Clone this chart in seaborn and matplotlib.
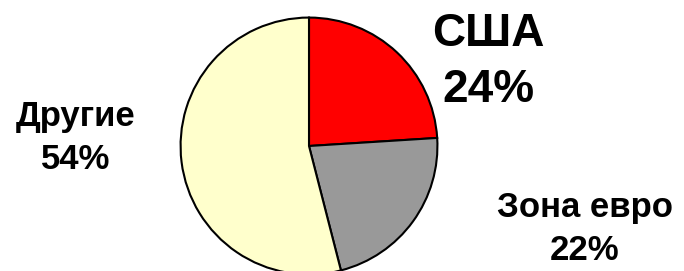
import matplotlib
matplotlib.use("Agg")
import matplotlib.pyplot as plt
import seaborn as sns

# shares of world economy
regions = ["США", "Зона евро", "Другие"]
shares = [24, 22, 54]
slice_colors = ["#FF0000", "#999999", "#FFFFCC"]

sns.set_theme(style="white")
plt.rcParams['font.family'] = ['Liberation Sans', 'DejaVu Sans']

fig = plt.figure(figsize=(6.84, 2.71), dpi=100, facecolor='white')
# pie centred at about (309, 146) px, radius ~131 px
ax = fig.add_axes([178 / 684, (271 - 277) / 271, 262 / 684, 262 / 271])
ax.pie(shares, colors=slice_colors, startangle=90, counterclock=False,
       radius=1.0, wedgeprops=dict(edgecolor='black', linewidth=1.5))
ax.set_xlim(-1.02, 1.02)
ax.set_ylim(-1.02, 1.02)
ax.set_aspect('equal')
ax.axis('off')

labels = [f"{r}\n{s}%" for r, s in zip(regions, shares)]
fig.text(488 / 684, 1 - 62 / 271, labels[0], ha='center', va='center',
         fontsize=33, fontweight='bold', linespacing=1.33, color='black')
fig.text(585 / 684, 1 - 229 / 271, labels[1], ha='center', va='center',
         fontsize=25, fontweight='bold', linespacing=1.38, color='black')
fig.text(76 / 684, 1 - 138 / 271, labels[2], ha='center', va='center',
         fontsize=25, fontweight='bold', linespacing=1.38, color='black')

fig.savefig("out.png", dpi=100, facecolor='white')
